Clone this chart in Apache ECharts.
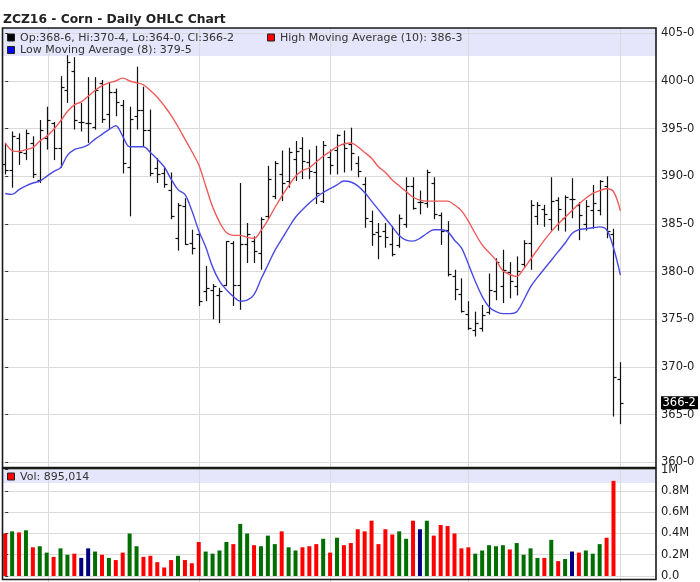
<!DOCTYPE html>
<html><head><meta charset="utf-8">
<script src="https://cdn.jsdelivr.net/npm/echarts@6/dist/echarts.min.js"></script>
<style>html,body{margin:0;padding:0;background:#fff}#c{width:700px;height:582px}</style>
</head><body><div id="c"></div>
<script>
// ---- data (bar index 0..89) ----
const opens  = [391.3,390.7,394.0,392.4,393.5,389.6,394.0,395.6,393.0,399.1,401.0,395.7,395.6,395.2,399.8,396.5,398.8,397.5,391.0,396.3,
                397.0,394.9,390.9,390.3,388.6,383.5,386.9,383.0,384.0,378.0,378.1,377.6,378.6,383.0,378.6,382.9,383.2,382.0,385.8,387.9,
                390.2,389.5,391.8,393.0,391.5,390.4,387.4,392.0,392.8,393.4,393.4,391.4,389.2,385.3,384.2,384.3,382.9,382.8,385.0,389.0,
                387.3,387.2,389.3,385.9,384.4,379.5,377.7,375.6,373.9,374.1,375.8,378.0,378.5,380.0,378.5,380.8,383.0,385.8,386.6,385.5,
                387.5,385.6,387.6,387.0,385.0,386.5,386.5,389.0,384.0,368.75];
const highs  = [393.5,394.7,394.5,394.9,394.2,395.9,397.3,395.7,400.5,402.7,402.5,397.7,400.4,400.4,400.1,399.9,399.2,398.0,397.3,401.5,
                399.4,397.0,391.9,390.9,390.4,387.2,387.7,384.4,384.1,380.6,378.7,378.3,383.2,383.2,389.3,385.1,383.7,385.7,391.1,391.6,
                392.7,393.0,393.7,394.1,392.8,393.2,393.7,392.8,394.4,394.8,395.1,392.1,389.9,386.4,385.1,385.1,384.8,386.0,389.9,389.9,
                388.5,390.7,389.9,386.2,385.3,380.2,379.3,376.9,375.8,376.5,379.8,381.4,382.3,381.0,381.6,383.3,387.5,387.3,387.0,389.9,
                387.8,388.0,389.8,387.3,387.5,389.1,389.6,390.0,384.5,370.5];
const lows   = [390.2,388.8,391.2,391.7,389.8,389.3,392.8,391.7,390.9,397.7,394.9,394.7,393.5,394.9,395.6,394.9,396.3,390.3,385.8,394.9,
                393.1,390.0,389.3,388.8,385.5,382.2,382.8,381.8,376.4,376.9,375.0,374.6,378.5,376.4,376.0,380.9,380.9,380.2,385.5,387.6,
                387.4,388.8,389.5,389.7,389.7,387.1,387.2,390.2,390.2,390.4,390.6,389.9,384.6,382.7,381.3,382.5,381.6,382.5,384.6,386.5,
                386.0,386.7,385.5,382.8,379.5,377.0,375.7,373.9,373.2,373.7,375.5,377.0,376.7,377.2,377.5,380.5,380.2,384.9,384.7,384.3,
                384.3,384.2,385.6,383.3,384.3,384.5,385.9,383.5,364.8,364.0];
const closes = [390.7,394.2,392.6,394.5,390.2,394.9,395.9,393.0,399.4,402.0,395.9,395.7,395.6,399.1,396.0,398.8,397.8,391.4,396.0,397.0,
                394.9,390.3,390.2,389.2,385.8,387.0,382.9,382.5,376.9,378.3,378.5,378.0,383.2,378.6,382.9,383.9,382.2,385.5,389.7,391.4,
                389.3,392.5,392.7,391.6,390.6,388.3,393.3,391.2,394.3,393.0,392.4,390.6,385.6,384.0,383.7,383.6,381.8,385.6,389.0,386.7,
                387.3,390.4,386.0,384.3,379.7,378.2,375.9,374.1,374.6,375.5,378.1,381.0,380.2,379.0,380.1,383.0,387.0,387.0,386.0,387.4,
                386.6,387.8,387.6,385.9,386.9,387.2,389.5,384.3,368.9,366.25];
const highMA10 = [393.5,392.7,392.6,392.8,393.0,393.7,394.2,394.9,395.8,396.8,397.5,397.8,398.4,399.0,399.5,399.8,400.0,400.3,400.0,399.8,
                399.6,399.0,398.3,397.4,396.4,395.2,393.9,392.6,391.2,389.0,386.8,385.2,384.1,383.8,383.8,383.6,383.5,384.3,385.4,386.7,
                387.9,389.0,390.0,390.6,390.9,391.5,392.1,392.6,393.1,393.4,393.5,393.1,392.5,391.9,391.0,390.4,389.6,389.0,388.4,387.8,
                387.5,387.4,387.4,387.4,387.4,387.0,386.4,385.3,384.0,382.8,382.0,381.2,380.1,379.7,379.5,380.3,381.3,382.3,383.3,384.2,
                385.0,385.7,386.4,387.1,387.7,388.2,388.5,388.7,388.4,386.375];
const lowMA8 = [388.2,388.1,388.6,389.0,389.3,389.5,390.0,390.5,390.9,392.2,392.8,393.0,393.3,393.9,394.4,394.9,395.3,394.2,393.1,393.1,
                393.1,392.5,391.8,391.0,389.7,388.6,388.1,386.4,384.3,382.6,380.5,379.0,378.1,377.4,376.9,377.0,377.6,379.2,380.7,382.2,
                383.4,384.6,385.7,386.5,387.2,387.8,388.3,388.7,389.1,389.5,389.4,389.0,388.3,387.4,386.5,385.6,384.7,383.8,383.3,383.2,
                383.5,384.0,384.4,384.4,384.2,383.3,382.5,380.8,379.0,377.4,376.3,375.8,375.6,375.6,375.8,377.0,378.4,379.4,380.3,381.2,
                382.1,383.0,384.0,384.4,384.5,384.6,384.7,384.4,382.5,379.625];
// volume per bar 0..88 (no volume yet for the last bar)
const volumes = [400000,420000,410000,430000,270000,280000,220000,180000,260000,200000,210000,170000,260000,230000,200000,170000,150000,220000,400000,280000,
                 180000,190000,130000,80000,150000,190000,150000,120000,320000,230000,210000,240000,320000,300000,490000,400000,290000,280000,380000,300000,
                 420000,270000,240000,270000,280000,300000,350000,220000,360000,290000,310000,440000,420000,520000,300000,440000,390000,420000,350000,520000,
                 440000,520000,380000,480000,470000,400000,260000,270000,210000,240000,290000,280000,290000,250000,310000,200000,260000,170000,170000,340000,
                 140000,160000,230000,220000,240000,210000,300000,360000,895014];
// day direction: d = down, u = up, n = unchanged
const volDir = ['d','u','d','u','d','u','u','d','u','u','d','n','n','u','d','u','d','d','u','u',
                'd','d','d','d','d','u','d','d','d','u','u','u','u','d','u','u','d','u','u','u',
                'd','u','u','d','d','d','u','d','u','d','d','d','d','d','d','d','d','u','u','d',
                'n','u','d','d','d','d','d','d','u','u','u','u','u','d','u','u','u','u','d','u',
                'd','u','n','d','u','u','u','d','d'];
const monthGridIdx = [6.15, 28, 47, 67, 89];
const priceTicks = {min: 360, max: 405, step: 5};
const volTicks = {min: 0, max: 1000000, step: 200000};

// ---- helpers ----
function eighths(v){ const w = Math.floor(v + 1e-9); return w + '-' + Math.round((v - w) * 8); }
const FONT = '"DejaVu Sans", Verdana, sans-serif';
const last = opens.length - 1;

const ohlcData = opens.map((o, i) => [i, o, closes[i], lows[i], highs[i]]);
const volData = volumes.map((v, i) => [i, v]);
const dirColor = {d: '#ff0000', u: '#006f00', n: '#000080'};

const XMIN = -0.32, XMAX = 94.15;
const chart = echarts.init(document.getElementById('c'), null, {renderer: 'canvas'});

function gridLineSeries(xi, yi) {
  return {
    type: 'custom', xAxisIndex: xi, yAxisIndex: yi, z: 1, silent: true,
    data: monthGridIdx.map(v => [v]),
    encode: {x: 0},
    renderItem: function (params, api) {
      const cs = params.coordSys;
      const x = Math.round(api.coord([api.value(0), 0])[0]) + 0.5;
      return {type: 'line', shape: {x1: x, y1: cs.y - 6, x2: x, y2: cs.y + cs.height + 6},
              style: {stroke: '#dadada', lineWidth: 1}};
    }
  };
}

const option = {
  animation: false,
  backgroundColor: '#fff',
  textStyle: {fontFamily: FONT},
  grid: [
    {left: 3, right: 44, top: 33.3, height: 429, containLabel: false},
    {left: 3, right: 44, top: 469.7, height: 109.5, containLabel: false}
  ],
  xAxis: [
    {type: 'value', gridIndex: 0, min: XMIN, max: XMAX, show: false},
    {type: 'value', gridIndex: 1, min: XMIN, max: XMAX, show: false}
  ],
  yAxis: [
    {type: 'value', gridIndex: 0, position: 'right', min: priceTicks.min, max: priceTicks.max, interval: priceTicks.step,
     axisLine: {show: false}, axisTick: {show: true, length: 3, lineStyle: {color: '#333'}},
     splitLine: {show: true, lineStyle: {color: '#dadada', width: 1}},
     axisLabel: {color: '#222', fontSize: 11.5, fontFamily: FONT, margin: 5, formatter: v => eighths(v)}},
    {type: 'value', gridIndex: 1, position: 'right', min: volTicks.min, max: volTicks.max, interval: volTicks.step,
     axisLine: {show: false}, axisTick: {show: true, length: 3, lineStyle: {color: '#333'}},
     splitLine: {show: true, lineStyle: {color: '#dadada', width: 1}},
     axisLabel: {color: '#222', fontSize: 11.5, fontFamily: FONT, margin: 5,
       formatter: v => v === 0 ? '0.0' : (v === 1000000 ? '1M' : (v / 1000000).toFixed(1) + 'M')}}
  ],
  series: [
    gridLineSeries(0, 0),
    gridLineSeries(1, 1),
    {
      type: 'custom', name: 'OHLC', xAxisIndex: 0, yAxisIndex: 0, z: 3,
      data: ohlcData,
      encode: {x: 0, y: [1, 2, 3, 4]},
      renderItem: function (params, api) {
        const xv = api.value(0);
        const o = api.coord([xv, api.value(1)]);
        const c = api.coord([xv, api.value(2)]);
        const l = api.coord([xv, api.value(3)]);
        const h = api.coord([xv, api.value(4)]);
        const px = Math.round(h[0]) + 0.5;
        const st = {stroke: '#111', lineWidth: 1.2};
        return {type: 'group', children: [
          {type: 'line', shape: {x1: px, y1: h[1], x2: px, y2: l[1]}, style: st},
          {type: 'line', shape: {x1: px - 3, y1: Math.round(o[1]) + 0.5, x2: px, y2: Math.round(o[1]) + 0.5}, style: st},
          {type: 'line', shape: {x1: px, y1: Math.round(c[1]) + 0.5, x2: px + 3, y2: Math.round(c[1]) + 0.5}, style: st}
        ]};
      }
    },
    {type: 'line', name: 'High MA', xAxisIndex: 0, yAxisIndex: 0, z: 4, data: highMA10.map((v, i) => [i, v]),
     showSymbol: false, smooth: 0.35, lineStyle: {color: '#f05a5a', width: 1.4}},
    {type: 'line', name: 'Low MA', xAxisIndex: 0, yAxisIndex: 0, z: 4, data: lowMA8.map((v, i) => [i, v]),
     showSymbol: false, smooth: 0.35, lineStyle: {color: '#4a4ae6', width: 1.4}},
    {type: 'bar', name: 'Volume', xAxisIndex: 1, yAxisIndex: 1, z: 3, data: volData, barWidth: 4,
     itemStyle: {color: p => dirColor[volDir[p.dataIndex]]}}
  ]
};
chart.setOption(option);

// frames, bands, title and legends
const pTop = 28, pBot = 467.5, vTop = 468.5, vBot = 579.5, L = 2.5, R = 656;
const lastY = chart.convertToPixel({yAxisIndex: 0}, closes[last]);
const legendText1 = 'Op:' + eighths(opens[last]) + ', Hi:' + eighths(highs[last]) + ', Lo:' + eighths(lows[last]) + ', Cl:' + eighths(closes[last]);
const legendText2 = 'High Moving Average (10): ' + eighths(highMA10[last]);
const legendText3 = 'Low Moving Average (8): ' + eighths(lowMA8[last]);
const volText = 'Vol: ' + volumes[volumes.length - 1].toLocaleString('en-US');

function sq(x, y, fill) { return {type: 'rect', z: 50, shape: {x: x + 0.5, y: y + 0.5, width: 7, height: 7}, style: {fill: fill, stroke: '#222', lineWidth: 1}}; }
function txt(x, y, s, extra) { return Object.assign({type: 'text', z: 50, x: x, y: y, style: {text: s, fill: '#333', font: '11px ' + FONT, textVerticalAlign: 'middle'}}, extra || {}); }

chart.setOption({graphic: {elements: [
  {type: 'rect', z: -1, shape: {x: L, y: pTop, width: R - L, height: 28}, style: {fill: '#e5e5fb'}},
  {type: 'rect', z: -1, shape: {x: L, y: vTop + 1, width: R - L, height: 13.5}, style: {fill: '#e5e5fb'}},
  {type: 'rect', z: 40, shape: {x: L, y: pTop, width: R - L, height: pBot - pTop}, style: {fill: null, stroke: '#1a1a1a', lineWidth: 1.6}},
  {type: 'rect', z: 40, shape: {x: L, y: vTop, width: R - L, height: vBot - vTop}, style: {fill: null, stroke: '#1a1a1a', lineWidth: 1.6}},
  {type: 'text', z: 50, x: 3, y: 19.5, style: {text: 'ZCZ16 - Corn - Daily OHLC Chart', fill: '#222', font: 'bold 12.3px ' + FONT, textVerticalAlign: 'middle'}},
  sq(7, 33.5, '#000'), txt(20, 38, legendText1),
  sq(267, 33.5, '#ff0000'), txt(280, 38, legendText2),
  sq(7, 46, '#0000ee'), txt(20, 50.5, legendText3),
  sq(7, 472.5, '#ff0000'), txt(20, 477, volText),
  {type: 'rect', z: 60, shape: {x: 661, y: lastY - 6.5, width: 37, height: 13}, style: {fill: '#000'}},
  {type: 'text', z: 61, x: 662.5, y: lastY, style: {text: eighths(closes[last]), fill: '#fff', font: '11.5px ' + FONT, textVerticalAlign: 'middle'}}
]}});
</script>
</body></html>
